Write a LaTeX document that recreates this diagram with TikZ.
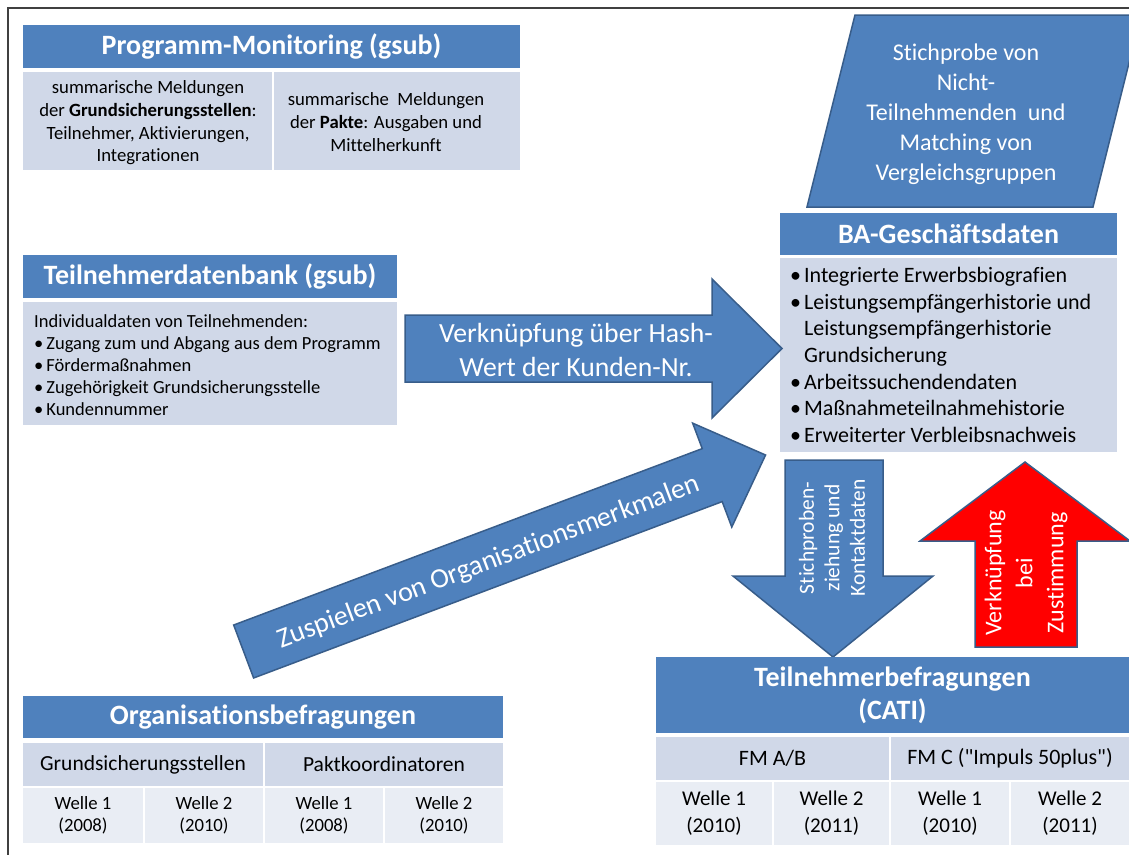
\documentclass[tikz,border=0pt]{standalone}
\usepackage{fontspec}
\setmainfont{Carlito}[Ligatures={NoCommon}]
\definecolor{hblue}{HTML}{4F81BD}
\definecolor{lrow}{HTML}{D0D8E8}
\definecolor{llrow}{HTML}{E9EDF4}
\definecolor{bord}{HTML}{385D8A}
\definecolor{framec}{HTML}{404040}
\definecolor{redf}{HTML}{FF0000}
\newcommand\fs[2]{\fontsize{#1}{#2}\selectfont}
\newcommand\cellnode[7]{\node[#6, minimum width={(#4-#2)*1pt}, minimum height={(#5-#3)*1pt}] (#1) at ({(#2+#4)/2},{(#3+#5)/2}) {#7};}
\newcommand\bul{\textbullet\hspace{3pt}}
\tikzset{
  cellbox/.style={inner sep=0pt, outer sep=0pt, align=center, draw=none},
  hdr/.style={cellbox, fill=hblue, text=white, font=\bfseries\fs{28}{33}},
  rowtwo/.style={cellbox, fill=lrow, font=\fs{21.5}{26}},
  rowthree/.style={cellbox, fill=llrow, font=\fs{18.7}{22}},
  rowtwob/.style={cellbox, fill=lrow, font=\fs{22}{27}},
  rowthreeb/.style={cellbox, fill=llrow, font=\fs{21}{27}},
  bodybox/.style={cellbox, fill=lrow, font=\fs{18.7}{22.7}},
  listtext/.style={inner sep=0pt, anchor=west, align=left},
  barrow/.style={fill=hblue, draw=bord, line width=1.5pt, line join=miter},
  rarrow/.style={fill=redf, draw=bord, line width=1.5pt, line join=miter},
  atext/.style={text=white, align=center, inner sep=0pt},
}
\begin{document}
\begin{tikzpicture}[x=1pt,y=-1pt]
\useasboundingbox (0,0) rectangle (1129,854);
\clip (0,0) rectangle (1129,854);
\fill[white] (0,0) rectangle (1129,854);
% frame
\draw[framec, line width=2pt] (8,855) -- (8,8) -- (1130,8);

% Programm-Monitoring
\cellnode{pmh}{23}{25}{520}{68}{hdr}{Programm-Monitoring (gsub)}
\cellnode{pma}{23}{72}{272}{170}{bodybox}{}
\cellnode{pmb}{274}{72}{520}{170}{bodybox}{}
\node[atext, text=black, font=\fs{18.7}{22.7}] (pmatext) at (148,123) {summarische Meldungen\\der \textbf{Grundsicherungsstellen}:\\Teilnehmer, Aktivierungen,\\Integrationen};
\node[atext, text=black, font=\fs{18.7}{22.7}] (pmbtext) at (386,122) {summarische\ \ Meldungen\\der \textbf{Pakte}: Ausgaben und\\Mittelherkunft};

% Teilnehmerdatenbank
\cellnode{tdbh}{23}{255}{397}{298}{hdr}{Teilnehmerdatenbank (gsub)}
\cellnode{tdbb}{23}{302}{397}{425}{bodybox}{}
\node[listtext, font=\fs{18.5}{22}] (tdbtext) at (34,365) {Individualdaten von Teilnehmenden:\\\bul Zugang zum und Abgang aus dem Programm\\\bul Fördermaßnahmen\\\bul Zugehörigkeit Grundsicherungsstelle\\\bul Kundennummer};

% Parallelogram
\path[barrow] (855,15) -- (1141,15) -- (1093,207) -- (807,207) -- cycle;
\node[atext, font=\fs{24}{30}] (ptext) at (966,114) {Stichprobe von\\Nicht-\\Teilnehmenden\ \ und\\Matching von\\Vergleichsgruppen};

% BA
\cellnode{bah}{780}{213}{1117}{255}{hdr}{BA-Geschäftsdaten}
\cellnode{bab}{780}{258}{1117}{452}{bodybox}{}
\node[listtext, font=\fs{22}{26.7}] (batext) at (790,355) {\bul Integrierte Erwerbsbiografien\\\bul Leistungsempfängerhistorie und\\\phantom{\bul}Leistungsempfängerhistorie\\\phantom{\bul}Grundsicherung\\\bul Arbeitssuchendendaten\\\bul Maßnahmeteilnahmehistorie\\\bul Erweiterter Verbleibsnachweis};

% horizontal arrow
\path[barrow] (405,315) -- (712,315) -- (712,279) -- (782,348.5) -- (712,418) -- (712,382) -- (405,382) -- cycle;
\node[atext, font=\fs{27.7}{34}] (htext) at (576,350) {Verknüpfung über Hash-\\Wert der Kunden-Nr.};

% diagonal arrow
\begin{scope}[shift={(243.65,651.5)}, rotate=20.63]
\path[barrow] (0,-28.3) -- (500.7,-28.3) -- (500.7,-55.5) -- (557.7,0) -- (500.7,55.5) -- (500.7,28.3) -- (0,28.3) -- cycle;
\node[atext, font=\fs{28}{34}, rotate=20.63] (ztext) at (261,3) {Zuspielen von Organisationsmerkmalen};
\end{scope}

% down arrow
\path[barrow] (785,460) -- (883,460) -- (883,576) -- (933,576) -- (833,657) -- (733,576) -- (785,576) -- cycle;
\node[atext, font=\fs{21.5}{25.5}, rotate=90] (stext) at (832,538) {Stichproben-\\ziehung und\\Kontaktdaten};

% red up arrow
\path[rarrow] (1025,462) -- (1130,541) -- (1077,541) -- (1077,647) -- (975,647) -- (975,541) -- (920,541) -- cycle;
\node[atext, font=\fs{24}{31}, rotate=90] (vtext) at (1026,573) {Verknüpfung\\bei\\Zustimmung};

% Organisationsbefragungen
\cellnode{oh}{23}{696}{503}{738}{hdr}{Organisationsbefragungen}
\cellnode{oa}{23}{743}{263}{786}{rowtwo}{Grundsicherungsstellen}
\cellnode{ob}{265}{743}{503}{786}{rowtwo}{Paktkoordinatoren}
\cellnode{oa1}{23}{788}{143}{843}{rowthree}{Welle 1\\(2008)}
\cellnode{oa2}{145}{788}{263}{843}{rowthree}{Welle 2\\(2010)}
\cellnode{ob1}{265}{788}{383}{843}{rowthree}{Welle 1\\(2008)}
\cellnode{ob2}{385}{788}{503}{843}{rowthree}{Welle 2\\(2010)}

% Teilnehmerbefragungen
\cellnode{th}{656}{657}{1129}{733}{hdr}{Teilnehmerbefragungen\\(CATI)}
\cellnode{ta}{656}{737}{889}{780}{rowtwob}{FM A/B}
\cellnode{tb}{891}{737}{1129}{780}{rowtwob}{FM C (\textquotedbl Impuls 50plus\textquotedbl)}
\cellnode{ta1}{656}{782}{772}{845}{rowthreeb}{Welle 1\\(2010)}
\cellnode{ta2}{774}{782}{889}{845}{rowthreeb}{Welle 2\\(2011)}
\cellnode{tb1}{891}{782}{1009}{845}{rowthreeb}{Welle 1\\(2010)}
\cellnode{tb2}{1011}{782}{1129}{845}{rowthreeb}{Welle 2\\(2011)}
\end{tikzpicture}
\end{document}
